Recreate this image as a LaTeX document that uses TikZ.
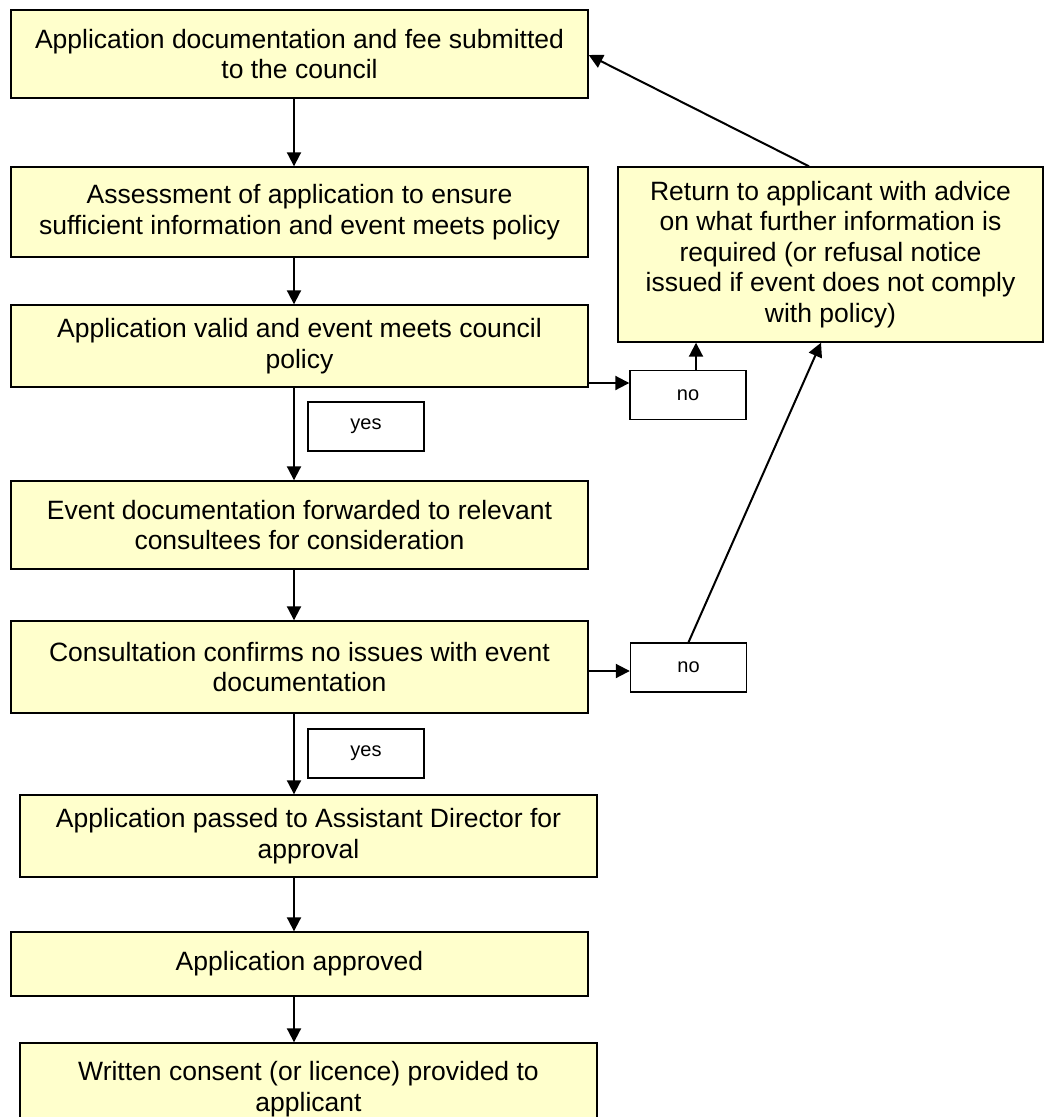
\documentclass[tikz,border=0pt]{standalone}
\usepackage{fontspec}
\setmainfont{Liberation Sans}
\usetikzlibrary{arrows.meta}
\definecolor{boxfill}{HTML}{FFFFCC}
\tikzset{
  stepbox/.style={draw=black, fill=boxfill, line width=1.4pt, align=center, inner sep=0pt,
    font=\fontsize{26.5}{30.5}\selectfont},
  mainbox/.style={stepbox, minimum width=577pt},
  labbox/.style={draw=black, fill=white, line width=1.4pt, inner sep=0pt,
    minimum width=116pt, minimum height=49pt, font=\fontsize{20}{24}\selectfont},
  arr/.style={line width=2pt, -{Triangle[length=14pt,width=14pt]}}
}
\begin{document}
\begin{tikzpicture}[x=1pt,y=-1pt]
\useasboundingbox (0,0) rectangle (1051,1117);
\clip (0,0) rectangle (1051,1117);
\fill[white] (0,0) rectangle (1051,1117);
\coordinate (vx) at (294,0);
\node[mainbox, minimum height=88pt] (b1) at (299.5,54) {Application documentation and fee submitted\\to the council};
\node[mainbox, minimum height=90pt] (b2) at (299.5,212) {Assessment of application to ensure\\sufficient information and event meets policy};
\node[mainbox, minimum height=82pt] (b3) at (299.5,346) {Application valid and event meets council\\policy};
\node[mainbox, minimum height=88pt] (b4) at (299.5,525) {Event documentation forwarded to relevant\\consultees for consideration};
\node[mainbox, minimum height=92pt] (b5) at (299.5,667) {Consultation confirms no issues with event\\documentation};
\node[mainbox, minimum height=82pt] (b6) at (308.5,836) {Application passed to Assistant Director for\\approval};
\node[mainbox, minimum height=64pt] (b7) at (299.5,964) {Application approved};
\node[mainbox, minimum height=92pt] (b8) at (308.5,1089) {Written consent (or licence) provided to\\applicant};
\node[stepbox, minimum width=425pt, minimum height=175pt] (rb) at (830.5,254.5) {Return to applicant with advice\\on what further information is\\required (or refusal notice\\issued if event does not comply\\with policy)};
\node[labbox] (no1) at (688,395) {no};
\node[labbox] (no2) at (688.5,667.5) {no};
\node[labbox] (yes1) at (366,426.5) {yes};
\node[labbox] (yes2) at (366,753.5) {yes};
\draw[arr] (b1.south -| vx) -- (b2.north -| vx);
\draw[arr] (b2.south -| vx) -- (b3.north -| vx);
\draw[arr] (b3.south -| vx) -- (b4.north -| vx);
\draw[arr] (b4.south -| vx) -- (b5.north -| vx);
\draw[arr] (b5.south -| vx) -- (b6.north -| vx);
\draw[arr] (b6.south -| vx) -- (b7.north -| vx);
\draw[arr] (b7.south -| vx) -- (b8.north -| vx);
\draw[arr] (b3.east |- 0,383) -- (no1.west |- 0,383);
\draw[arr] (no1.north -| 696,0) -- (rb.south -| 696,0);
\draw[arr] (b5.east |- 0,671) -- (no2.west |- 0,671);
\draw[arr] (no2.north) -- (rb.south -| 821,0);
\draw[arr] (rb.north -| 809,0) -- (b1.east |- 0,55);
\end{tikzpicture}
\end{document}
